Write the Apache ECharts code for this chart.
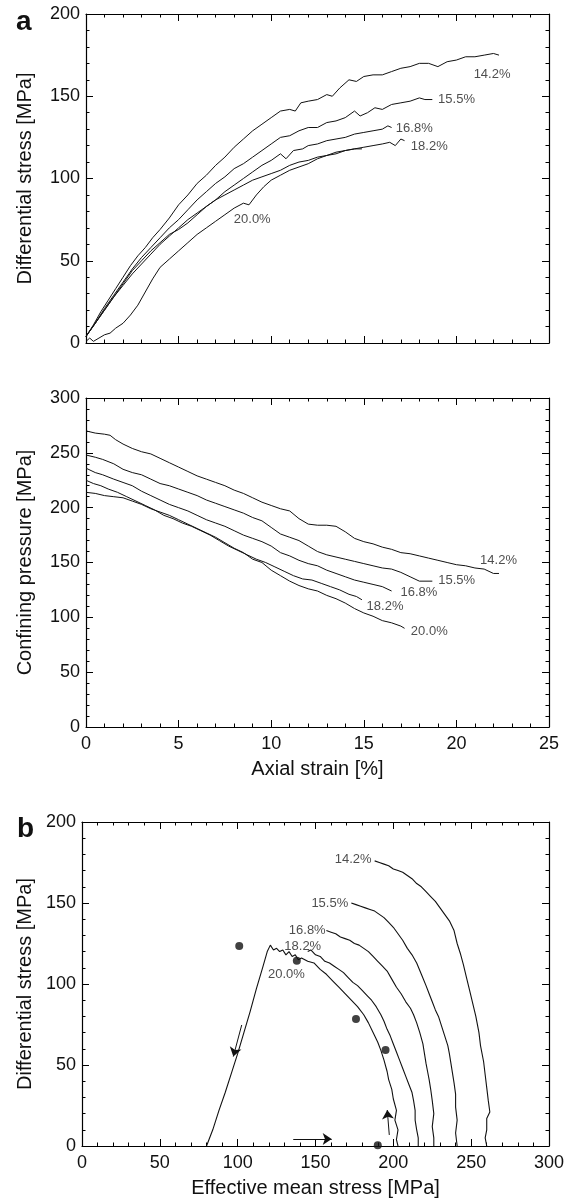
<!DOCTYPE html>
<html><head><meta charset="utf-8">
<script src="https://cdn.jsdelivr.net/npm/echarts@6/dist/echarts.min.js"></script>
<style>html,body{margin:0;padding:0;background:#fff}#c{width:574px;height:1200px}</style>
</head><body><div id="c"></div>
<script>
// ---------------- DATA ----------------
const curveNames = ['14.2%', '15.5%', '16.8%', '18.2%', '20.0%'];
const strainTicks = [0, 5, 10, 15, 20, 25];
const diffStressTicks = [0, 50, 100, 150, 200];
const confPressTicks = [0, 50, 100, 150, 200, 250, 300];
const meanStressTicks = [0, 50, 100, 150, 200, 250, 300];

// Panel a (top): [axial strain %, differential stress MPa]
const dsStrain_142 = [[0,4],[0.4,11],[0.8,19],[1.2,26],[1.6,33],[2,40],[2.4,47],[2.8,53],[3.2,58],[3.6,64],[4,69],[4.5,76],[5,84],[5.5,90],[6,97],[6.5,102],[7,108],[7.5,113],[8,119],[8.5,124],[9,129],[9.5,133],[10,137],[10.5,141],[11,142],[11.3,141],[11.6,146],[12,147],[12.5,148],[13,151],[13.3,150],[13.7,155],[14.2,160],[14.6,159],[15,162],[15.5,163],[16,163],[16.5,165],[17,167],[17.5,168],[18,170],[18.5,170],[19,168],[19.5,171],[20,172],[20.5,174],[21,174],[21.5,175],[22,176],[22.3,175]];
const dsStrain_155 = [[0,4],[0.5,12],[1,21],[1.5,29],[2,37],[2.5,45],[3,52],[3.5,58],[4,64],[4.5,70],[5,75],[5.5,81],[6,87],[6.5,92],[7,97],[7.5,101],[8,106],[8.5,109],[9,113],[9.5,117],[10,121],[10.5,125],[11,126],[11.5,129],[12,131],[12.5,131],[13,134],[13.5,135],[14,137],[14.5,141],[14.8,138],[15.2,140],[15.6,143],[16,142],[16.5,145],[17,146],[17.5,147],[18,149],[18.3,148],[18.7,148]];
const dsStrain_168 = [[0,4],[0.5,12],[1,20],[1.5,28],[2,36],[2.5,44],[3,50],[3.5,56],[4,61],[4.5,66],[5,69],[5.5,73],[6,78],[6.5,83],[7,87],[7.5,92],[8,96],[8.5,100],[9,104],[9.5,108],[10,111],[10.5,115],[10.8,112],[11.2,117],[11.7,118],[12,120],[12.5,121],[13,123],[13.5,124],[14,125],[14.5,127],[15,128],[15.5,129],[16,130],[16.3,132],[16.5,131]];
const dsStrain_182 = [[0,4],[0.5,12],[1,20],[1.5,28],[2,35],[2.5,42],[3,48],[3.5,54],[4,60],[4.5,65],[5,70],[5.5,75],[6,79],[6.5,83],[7,87],[7.5,90],[8,93],[8.5,96],[9,99],[9.5,101],[10,103],[10.5,105],[11,108],[11.5,110],[12,111],[12.5,113],[13,114],[13.5,116],[14,117],[14.5,118],[14.9,118]];
const dsStrain_200 = [[0,1],[0.2,3],[0.4,1],[0.7,3],[1,5],[1.3,6],[1.6,9],[2,12],[2.4,17],[2.8,23],[3.2,31],[3.6,39],[4,46],[4.5,51],[5,56],[5.5,61],[6,66],[6.5,70],[7,74],[7.5,78],[8,82],[8.5,85],[8.8,84],[9.2,90],[9.6,95],[10,99],[10.5,102],[11,105],[11.5,107],[12,109],[12.5,112],[13,114],[13.5,115],[14,117],[14.5,118],[15,119],[15.5,120],[16,121],[16.4,122],[16.7,120],[17,124],[17.2,123]];

// Panel a (bottom): [axial strain %, confining pressure MPa]
const cpStrain_142 = [[0,270],[0.5,268],[1,267],[1.3,266],[1.6,262],[2,258],[2.5,254],[3,251],[3.5,249],[4,245],[4.5,241],[5,237],[5.5,233],[6,229],[6.5,226],[7,223],[7.5,220],[8,216],[8.5,213],[9,209],[9.5,205],[10,202],[10.5,199],[11,197],[11.5,190],[12,185],[12.5,184],[13,184],[13.5,183],[14,178],[14.5,172],[15,169],[15.5,167],[16,164],[16.5,162],[17,159],[17.5,158],[18,156],[18.5,154],[19,152],[19.5,150],[20,148],[20.5,147],[21,145],[21.5,144],[22,140],[22.3,140]];
const cpStrain_155 = [[0,248],[0.5,246],[0.9,244],[1.5,240],[2,235],[2.5,232],[3,230],[3.5,226],[4,222],[4.5,220],[5,217],[5.5,214],[6,211],[6.5,207],[7,204],[7.5,201],[8,198],[8.5,195],[9,191],[9.5,188],[10,182],[10.5,176],[11,173],[11.5,170],[12,165],[12.5,160],[13,157],[13.5,155],[14,153],[14.5,151],[15,149],[15.5,147],[16,145],[16.5,144],[17,141],[17.5,137],[18,133],[18.7,133]];
const cpStrain_168 = [[0,236],[0.5,232],[0.9,230],[1.5,226],[2,223],[2.5,220],[3,215],[3.5,211],[4,207],[4.5,203],[5,200],[5.5,197],[6,193],[6.5,189],[7,186],[7.5,183],[8,179],[8.5,175],[9,172],[9.5,169],[10,165],[10.5,159],[11,156],[11.5,152],[12,149],[12.5,147],[13,143],[13.5,140],[14,137],[14.5,134],[15,132],[15.5,130],[16,128],[16.5,124]];
const cpStrain_182 = [[0,225],[0.4,222],[0.8,220],[1.2,217],[1.7,214],[2.2,210],[2.7,206],[3.2,202],[3.7,198],[4.2,193],[4.7,190],[5.2,186],[5.7,183],[6.2,179],[6.7,175],[7.2,170],[7.7,165],[8.2,161],[8.7,157],[9.2,153],[9.7,150],[10.2,146],[10.7,142],[11.2,138],[11.7,135],[12.2,134],[12.7,131],[13.2,128],[13.7,125],[14.2,121],[14.6,119],[14.9,116]];
const cpStrain_200 = [[0,214],[0.5,213],[1,211],[1.5,210],[2,209],[2.5,206],[3,203],[3.5,199],[4,196],[4.5,193],[5,189],[5.5,185],[6,181],[6.5,177],[7,173],[7.5,168],[8,163],[8.5,159],[9,153],[9.5,150],[10,143],[10.5,138],[11,133],[11.5,129],[12,126],[12.5,124],[13,120],[13.5,117],[14,113],[14.5,108],[15,104],[15.5,101],[16,97],[16.5,95],[17,92],[17.2,90]];

// Panel b: [effective mean stress MPa, differential stress MPa]
const pq_142 = [[188,176],[191,175],[194,174],[197,173],[200,171],[203,170],[206,169],[209,167],[212,165],[215,162],[218,160],[221,157],[224,154],[227,151],[230,147],[233,143],[236,139],[239,133],[241,125],[243,119],[245,112],[247,104],[249,96],[251,88],[253,80],[255,70],[256,62],[258,52],[259,44],[260,36],[261,28],[262,21],[260,17],[260,10],[259,5],[260,0]];
const pq_155 = [[173,150],[176,149],[179,148],[182,147],[185,146],[188,145],[191,143],[194,141],[197,138],[200,135],[203,131],[206,127],[209,122],[212,118],[215,113],[218,106],[221,99],[223,94],[225,89],[227,84],[229,80],[231,74],[233,68],[235,62],[236,57],[237,51],[238,45],[239,39],[240,32],[240,24],[241,16],[240,8],[241,0]];
const pq_168 = [[157,133],[160,132],[163,131],[166,129],[169,128],[172,127],[175,125],[178,124],[181,122],[184,120],[187,117],[190,114],[193,111],[196,108],[199,103],[202,98],[205,94],[208,89],[211,85],[213,81],[215,76],[217,70],[219,63],[220,57],[221,51],[222,46],[223,41],[224,35],[225,28],[226,20],[225,12],[226,5],[226,0]];
const pq_182 = [[145,120],[147,121],[150,118],[153,117],[156,114],[159,113],[162,111],[165,109],[168,107],[171,104],[174,101],[177,99],[180,96],[183,93],[186,90],[189,86],[192,81],[194,77],[196,72],[198,68],[200,63],[202,58],[204,53],[206,48],[208,43],[210,38],[212,33],[213,28],[214,22],[214,16],[215,10],[216,5],[216,0]];
const pq_200 = [[80,0],[84,10],[88,22],[92,33],[96,45],[100,57],[104,70],[108,83],[112,97],[116,110],[119,120],[121,124],[123,121],[125,122],[127,120],[129,121],[131,118],[133,120],[135,117],[137,118],[139,115],[141,116],[145,114],[149,113],[153,109],[157,106],[161,102],[165,98],[169,94],[173,90],[177,86],[181,81],[184,76],[187,70],[190,64],[192,59],[194,53],[196,46],[197,41],[199,35],[200,29],[202,22],[201,16],[203,10],[202,4],[203,0]];
const pqDots = [[101,123.5],[138,114.4],[176,78.4],[195,59.3],[190,0.5]];
const pqArrows = [[[102.6,74.7],[97.2,55.2]], [[197.4,6.8],[196.1,22.2]], [[135.7,4.3],[160.4,4.3]]];

// Curve label anchors (data units)
const labelsA1 = [[20.85,163,'14.2%'],[18.93,148,'15.5%'],[16.65,130.5,'16.8%'],[17.46,119.3,'18.2%'],[7.9,75,'20.0%']];
const labelsA2 = [[21.2,152.3,'14.2%'],[18.94,133.4,'15.5%'],[16.9,122.8,'16.8%'],[15.07,109.7,'18.2%'],[17.46,86.9,'20.0%']];
const labelsB_before = [[187,177,'14.2%'],[172,150,'15.5%'],[157.5,133,'16.8%']];
const labelsB_after = [[129,123,'18.2%'],[118.5,106,'20.0%']];

// ---------------- CHART ----------------
const FONT = '"Liberation Sans", Arial, Helvetica, sans-serif';
const INK = '#111';

function axisBase(ticks, showLabels) {
  return {
    type: 'value',
    min: ticks[0], max: ticks[ticks.length - 1], interval: ticks[1] - ticks[0],
    splitLine: { show: false },
    axisLine: { show: true, onZero: false, lineStyle: { color: '#000', width: 1.2 } },
    axisTick: { show: true, inside: true, length: 7, lineStyle: { color: '#000', width: 1 } },
    minorTick: { show: true, splitNumber: 5, length: 3.5, lineStyle: { color: '#000', width: 1 } },
    axisLabel: { show: showLabels, color: '#111', fontSize: 18, fontFamily: FONT, margin: 6 },
    nameTextStyle: { color: '#111', fontSize: 20, fontFamily: FONT },
  };
}
function xAx(g, ticks, pos, showLabels, name, gap) {
  const a = axisBase(ticks, showLabels);
  a.gridIndex = g; a.position = pos;
  a.axisLabel.margin = 8;
  if (name) { a.name = name; a.nameLocation = 'middle'; a.nameGap = gap; }
  return a;
}
function yAx(g, ticks, pos, showLabels, name, gap) {
  const a = axisBase(ticks, showLabels);
  a.gridIndex = g; a.position = pos;
  if (name) { a.name = name; a.nameLocation = 'middle'; a.nameGap = gap; }
  return a;
}
function lineS(data, ai, w) {
  return { type: 'line', data: data, xAxisIndex: ai, yAxisIndex: ai, showSymbol: false, symbol: 'none',
    lineStyle: { color: INK, width: w || 1 }, silent: true, animation: false, z: 3 };
}
function labelS(data, ai, side) {
  return { type: 'scatter', data: data, xAxisIndex: ai, yAxisIndex: ai, symbolSize: 1,
    itemStyle: { color: 'rgba(0,0,0,0)' }, silent: true, animation: false,
    label: { show: true, position: side, distance: 1, color: '#222', fontSize: 13, fontFamily: FONT,
      formatter: p => p.value[2] } };
}

const series = [];
[dsStrain_142, dsStrain_155, dsStrain_168, dsStrain_182, dsStrain_200].forEach(d => series.push(lineS(d, 0)));
[cpStrain_142, cpStrain_155, cpStrain_168, cpStrain_182, cpStrain_200].forEach(d => series.push(lineS(d, 2)));
[pq_142, pq_155, pq_168, pq_182, pq_200].forEach(d => series.push(lineS(d, 4, 1.1)));
series.push(labelS(labelsA1, 0, 'right'));
series.push(labelS(labelsA2, 2, 'right'));
series.push(labelS(labelsB_before, 4, 'left'));
series.push(labelS(labelsB_after, 4, 'right'));
series.push({
  type: 'scatter', data: pqDots, xAxisIndex: 4, yAxisIndex: 4, symbol: 'circle', symbolSize: 8,
  itemStyle: { color: '#111' }, silent: true, animation: false, z: 5
});
// arrows
series.push({
  type: 'line', data: [], xAxisIndex: 4, yAxisIndex: 4, silent: true, animation: false,
  markLine: {
    silent: true, animation: false, symbol: ['none', 'arrow'], symbolSize: 9,
    itemStyle: { color: INK },
    lineStyle: { color: INK, width: 1, type: 'solid' }, label: { show: false },
    emphasis: { disabled: true },
    data: pqArrows.map(a => [{ coord: a[0] }, { coord: a[1] }])
  }
});

const option = {
  animation: false,
  backgroundColor: '#fff',
  textStyle: { fontFamily: FONT },
  grid: [
    { left: 86, top: 14, width: 463, height: 329 },
    { left: 86, top: 398, width: 463, height: 329 },
    { left: 82, top: 822, width: 467, height: 324 }
  ],
  xAxis: [
    xAx(0, strainTicks, 'bottom', false),
    xAx(0, strainTicks, 'top', false),
    xAx(1, strainTicks, 'bottom', true, 'Axial strain [%]', 32),
    xAx(1, strainTicks, 'top', false),
    xAx(2, meanStressTicks, 'bottom', true, 'Effective mean stress [MPa]', 32),
    xAx(2, meanStressTicks, 'top', false)
  ],
  yAxis: [
    yAx(0, diffStressTicks, 'left', true, 'Differential stress [MPa]', 51),
    yAx(0, diffStressTicks, 'right', false),
    yAx(1, confPressTicks, 'left', true, 'Confining pressure [MPa]', 51),
    yAx(1, confPressTicks, 'right', false),
    yAx(2, diffStressTicks, 'left', true, 'Differential stress [MPa]', 47),
    yAx(2, diffStressTicks, 'right', false)
  ],
  graphic: [
    { type: 'text', left: 16, top: 8, style: { text: 'a', fill: '#111', font: 'bold 28px ' + FONT } },
    { type: 'text', left: 17, top: 815, style: { text: 'b', fill: '#111', font: 'bold 28px ' + FONT } }
  ],
  series: series
};
const chart = echarts.init(document.getElementById('c'), null, { renderer: 'canvas' });
chart.setOption(option);
</script>
</body></html>
